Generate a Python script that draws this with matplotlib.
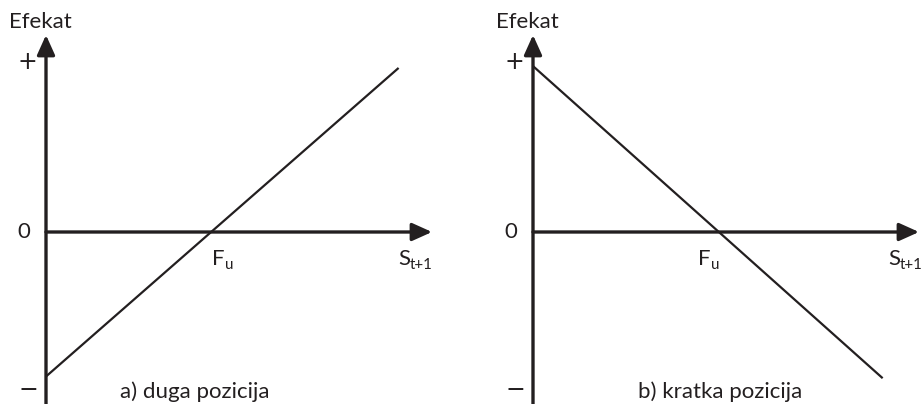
import matplotlib
matplotlib.use("Agg")
import matplotlib.pyplot as plt

plt.rcParams['font.family'] = ['Lato', 'DejaVu Sans']

# data: x in units of F_u, y in units of the "+" level
s_duga = [0.0, 2.15]
ef_duga = [-0.85, 0.965]
s_kratka = [0.0, 1.89]
ef_kratka = [0.976, -0.86]
fu = 1.0
plus_lvl = 1.0
minus_lvl = -0.93
titles = ["a) duga pozicija", "b) kratka pozicija"]

W, H = 923, 404
ink = '#231f20'

fig = plt.figure(figsize=(W / 100, H / 100), dpi=100)
arrow = dict(arrowstyle='-|>,head_length=0.6,head_width=0.27',
             lw=2.4, color=ink, mutation_scale=20, shrinkA=0, shrinkB=0)


def sub_label(ax, x, y, main, sub, ux, uy, fs):
    t = ax.text(x, y, main, ha='left', va='baseline', fontsize=fs, color=ink)
    fig.canvas.draw()
    bb = t.get_window_extent()
    ax.text(x + bb.width / ux, y - 4 / uy, sub, ha='left', va='baseline',
            fontsize=fs * 0.68, color=ink)


def panel(ox, oy, ux, uy, s, ef, xend, s_lab_x, fu_lab_x, title, title_x):
    ax = fig.add_axes([0, 0, 1, 1])
    ax.set_xlim((0 - ox) / ux, (W - ox) / ux)
    ax.set_ylim((oy - H) / uy, oy / uy)
    ax.axis('off')
    ax.patch.set_alpha(0)
    ytop = (oy - 35) / uy
    ybot = (oy - H - 5) / uy
    ax.annotate('', xy=(0, ytop), xytext=(0, ybot), arrowprops=arrow)
    ax.annotate('', xy=(xend, 0), xytext=(0, 0), arrowprops=arrow)
    ax.plot(s, ef, color=ink, lw=1.6, solid_capstyle='butt')
    fs = 16
    ax.text(-6 / ux, (oy - 22) / uy, 'Efekat', ha='center', va='center', fontsize=fs, color=ink)
    ax.text(-19 / ux, plus_lvl, '+', ha='center', va='center', fontsize=17, color=ink,
            family=['DejaVu Sans'])
    ax.text(-22 / ux, 0, '0', ha='center', va='center', fontsize=fs, color=ink)
    ax.text(-18 / ux, minus_lvl, '\u2212', ha='center', va='center', fontsize=17, color=ink,
            family=['DejaVu Sans'])
    sub_label(ax, fu_lab_x, -33 / uy, 'F', 'u', ux, uy, fs)
    sub_label(ax, s_lab_x, -33 / uy, 'S', 't+1', ux, uy, fs)
    ax.text(title_x, (oy - 392) / uy, title, ha='center', va='center', fontsize=fs, color=ink)


panel(46, 232, 164, 170, s_duga, ef_duga, (432 - 46) / 164, (398 - 46) / 164,
      (212 - 46) / 164, titles[0], (195 - 46) / 164)
panel(533, 232, 185, 170, s_kratka, ef_kratka, (919 - 533) / 185, (888 - 533) / 185,
      (698 - 533) / 185, titles[1], (720 - 533) / 185)

fig.savefig('out.png', dpi=100)
